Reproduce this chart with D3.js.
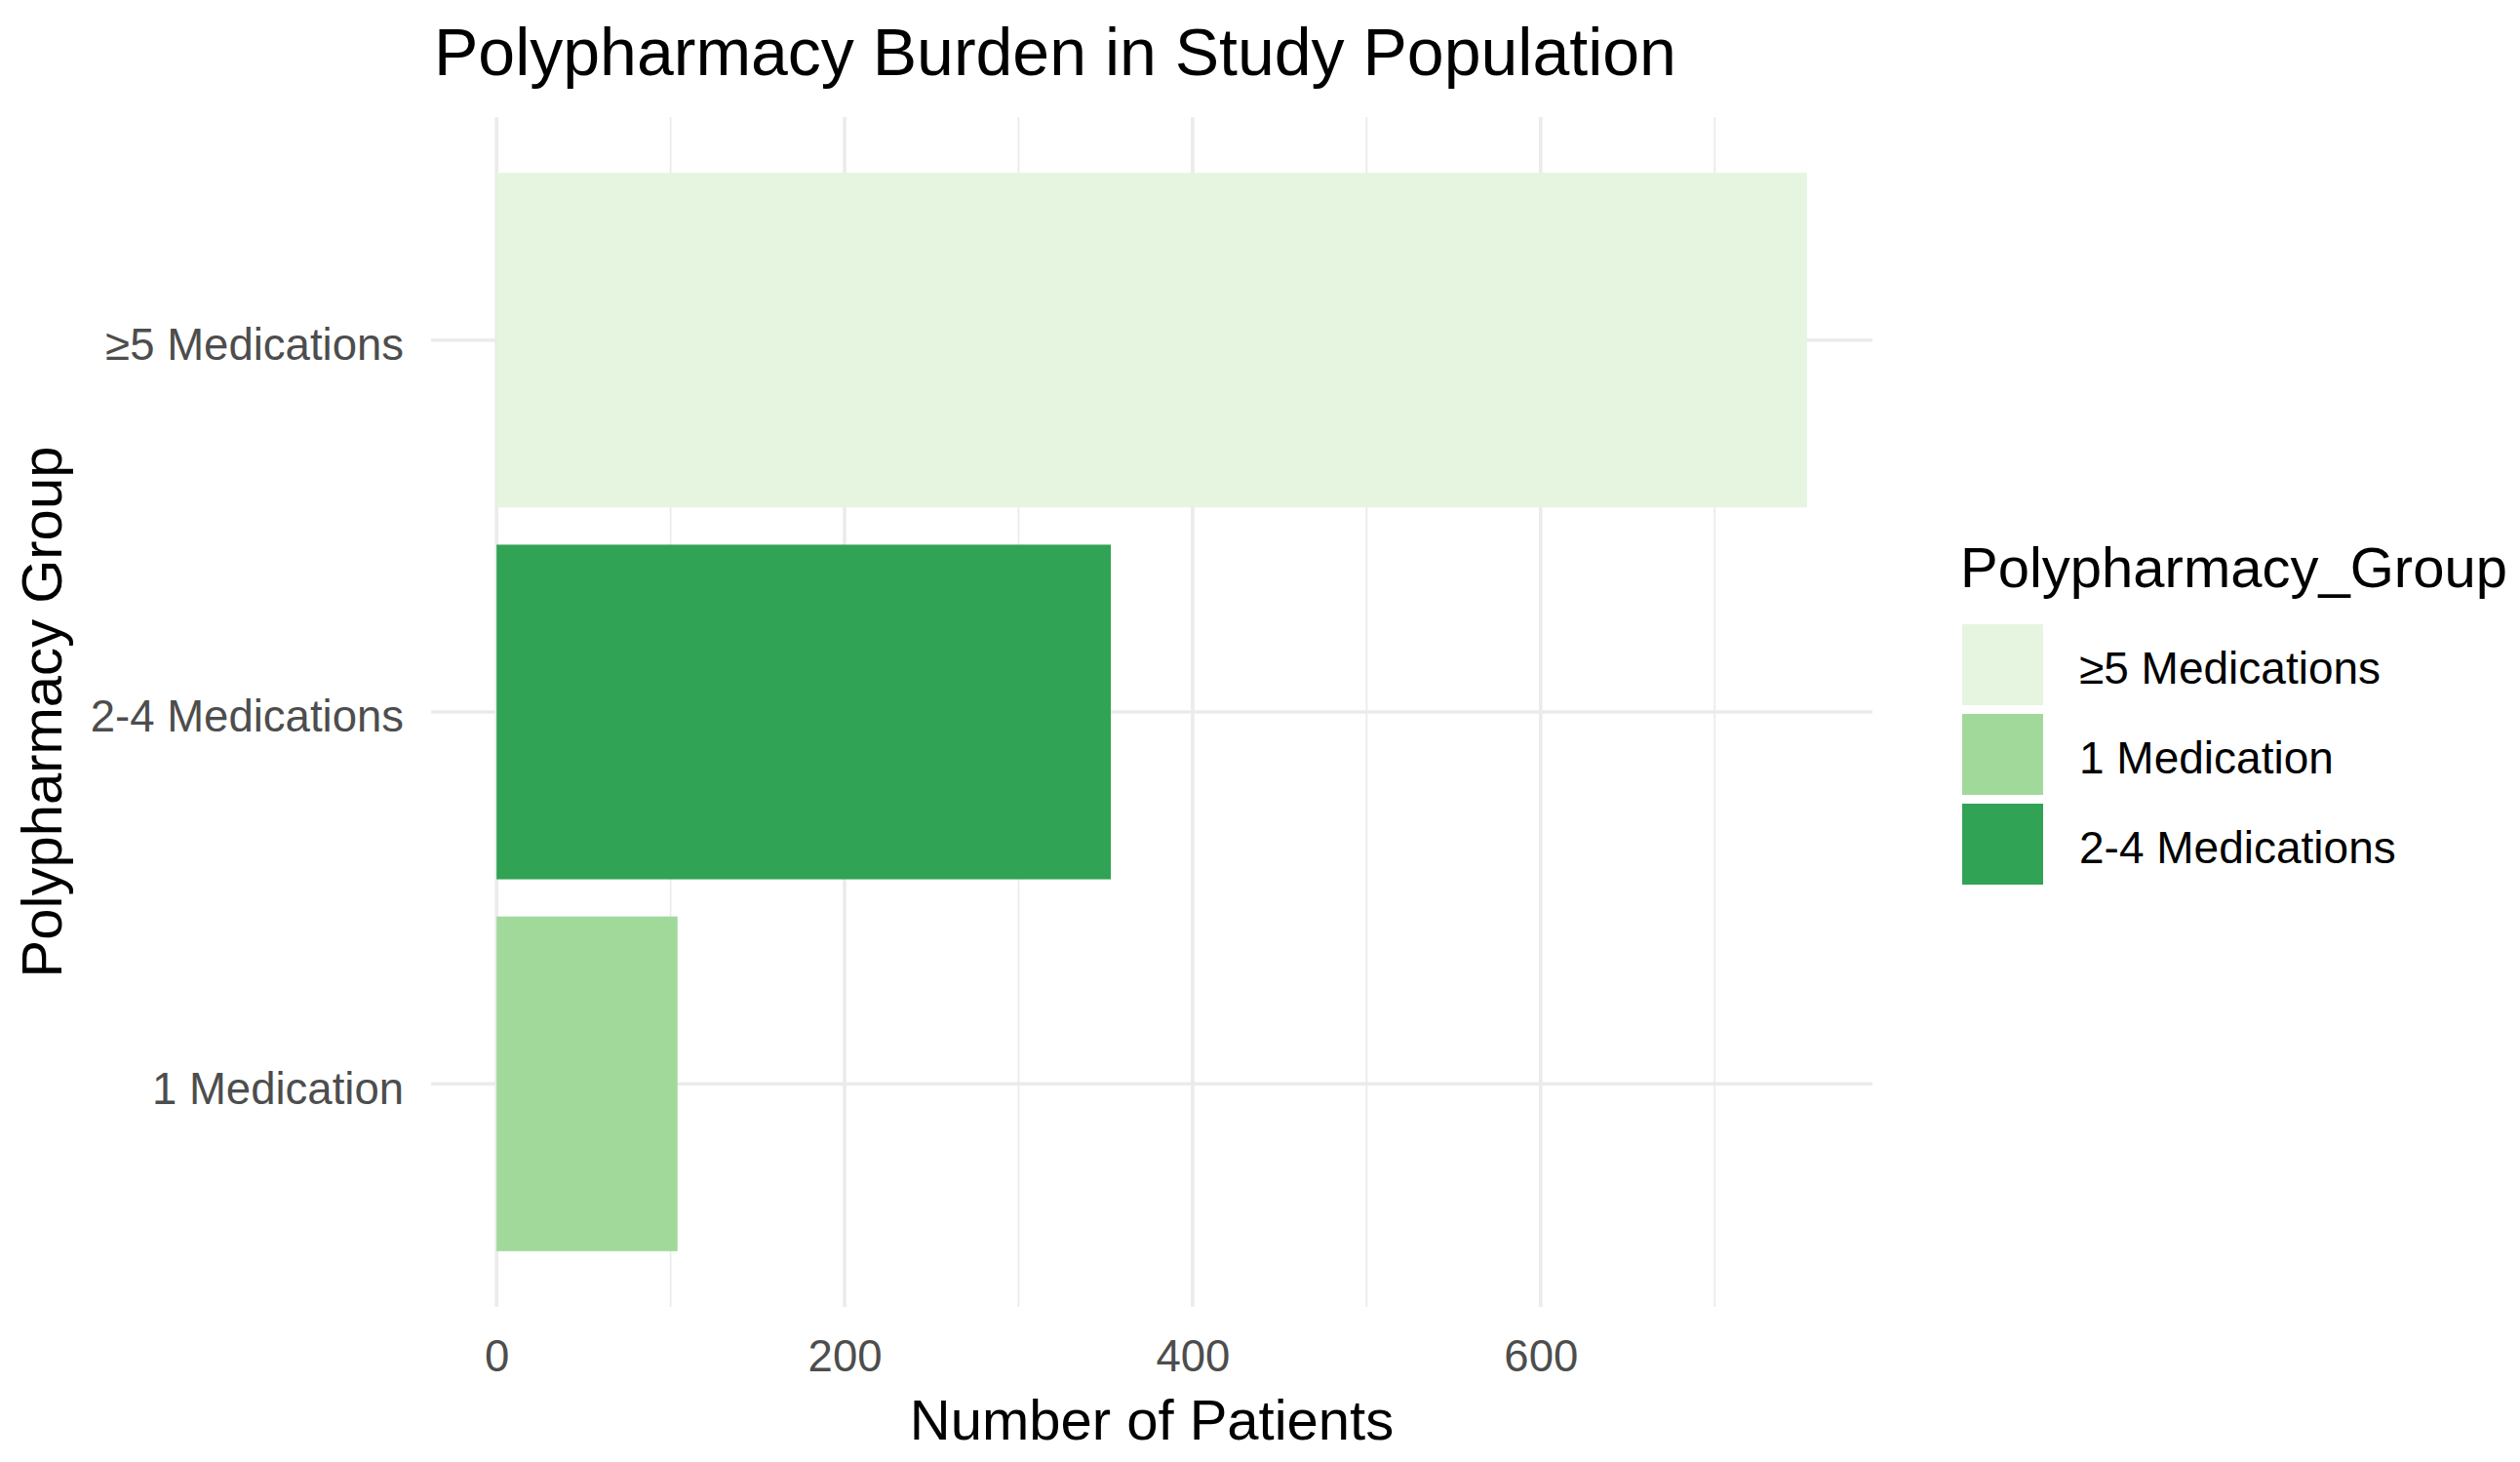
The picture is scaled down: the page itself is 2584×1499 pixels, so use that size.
<!DOCTYPE html>
<html>
<head>
<meta charset="utf-8">
<script src="https://cdn.jsdelivr.net/npm/d3@7"></script>
<style>
  html, body { margin: 0; padding: 0; background: #ffffff; }
  svg { display: block; font-family: "Liberation Sans", Arial, sans-serif; }
</style>
</head>
<body>
<script>
// ---- data ----
const categories = ["≥5 Medications", "2-4 Medications", "1 Medication"]; // top to bottom
const patientCounts = [753, 353, 104];
const legendOrder = ["≥5 Medications", "1 Medication", "2-4 Medications"];
const groupColors = ["#e5f5e0", "#a1d99b", "#31a354"]; // aligned with legendOrder
const xMajorTicks = [0, 200, 400, 600];
const xMinorTicks = [100, 300, 500, 700];
const titleText = "Polypharmacy Burden in Study Population";
const xTitle = "Number of Patients";
const yTitle = "Polypharmacy Group";
const legendTitle = "Polypharmacy_Group";

const W = 2584, H = 1499;
const panel = { left: 442, right: 1920, top: 120, bottom: 1340 };

const svg = d3.select("body").append("svg").attr("width", W).attr("height", H);
svg.append("rect").attr("width", W).attr("height", H).attr("fill", "#ffffff");

const maxV = d3.max(patientCounts);
const x = d3.scaleLinear()
  .domain([-0.05 * maxV, maxV * 1.05])
  .range([panel.left, panel.right]);

const y = d3.scalePoint()
  .domain(categories)
  .range([panel.top, panel.bottom])
  .padding(0.6);
const step = y.step();
const barH = step * 0.9;

const color = d3.scaleOrdinal().domain(legendOrder).range(groupColors);

// grid
const grid = svg.append("g");
grid.selectAll(".minor").data(xMinorTicks).join("line")
  .attr("x1", d => x(d)).attr("x2", d => x(d))
  .attr("y1", panel.top).attr("y2", panel.bottom)
  .attr("stroke", "#ebebeb").attr("stroke-width", 1.8);
grid.selectAll(".major").data(xMajorTicks).join("line")
  .attr("x1", d => x(d)).attr("x2", d => x(d))
  .attr("y1", panel.top).attr("y2", panel.bottom)
  .attr("stroke", "#ebebeb").attr("stroke-width", 3.6);
grid.selectAll(".ymajor").data(categories).join("line")
  .attr("x1", panel.left).attr("x2", panel.right)
  .attr("y1", d => y(d)).attr("y2", d => y(d))
  .attr("stroke", "#ebebeb").attr("stroke-width", 3.6);

// bars
svg.append("g").selectAll("rect").data(categories).join("rect")
  .attr("x", x(0))
  .attr("y", d => y(d) - barH / 2)
  .attr("width", (d, i) => x(patientCounts[i]) - x(0))
  .attr("height", barH)
  .attr("fill", d => color(d));

// x axis (labels only)
const xAxis = svg.append("g")
  .attr("transform", `translate(0,${panel.bottom + 34})`)
  .call(d3.axisBottom(x).tickValues(xMajorTicks).tickSize(0).tickPadding(0));
xAxis.select(".domain").remove();
xAxis.selectAll("text")
  .attr("font-family", "Liberation Sans, Arial, sans-serif")
  .attr("font-size", 45.5).attr("fill", "#4d4d4d").attr("dy", "0.71em");

// y axis (labels only)
const yAxis = svg.append("g")
  .attr("transform", `translate(${panel.left - 28},4)`)
  .call(d3.axisLeft(y).tickSize(0).tickPadding(0));
yAxis.select(".domain").remove();
yAxis.selectAll("text")
  .attr("font-family", "Liberation Sans, Arial, sans-serif")
  .attr("font-size", 45.5).attr("fill", "#4d4d4d").attr("dy", "0.35em");

// titles
svg.append("text").attr("x", 445).attr("y", 77)
  .attr("font-size", 68).attr("fill", "#000").text(titleText);
svg.append("text").attr("x", (panel.left + panel.right) / 2).attr("y", 1476)
  .attr("text-anchor", "middle").attr("font-size", 58).attr("fill", "#000").text(xTitle);
svg.append("text").attr("transform", `translate(63,${(panel.top + panel.bottom) / 2}) rotate(-90)`)
  .attr("text-anchor", "middle").attr("font-size", 58).attr("fill", "#000").text(yTitle);

// legend
const lg = svg.append("g").attr("transform", "translate(2010,0)");
lg.append("text").attr("x", 0).attr("y", 602).attr("font-size", 58).attr("fill", "#000").text(legendTitle);
const keySize = 83, keyStep = 92, keyTop = 640;
const items = lg.selectAll("g.item").data(legendOrder).join("g")
  .attr("transform", (d, i) => `translate(0,${keyTop + i * keyStep})`);
items.append("rect").attr("x", 2).attr("width", keySize).attr("height", keySize)
  .attr("fill", d => color(d));
items.append("text").attr("x", 122).attr("y", keySize / 2 + 3).attr("dy", "0.35em")
  .attr("font-size", 46).attr("fill", "#000").text(d => d);
</script>
</body>
</html>
